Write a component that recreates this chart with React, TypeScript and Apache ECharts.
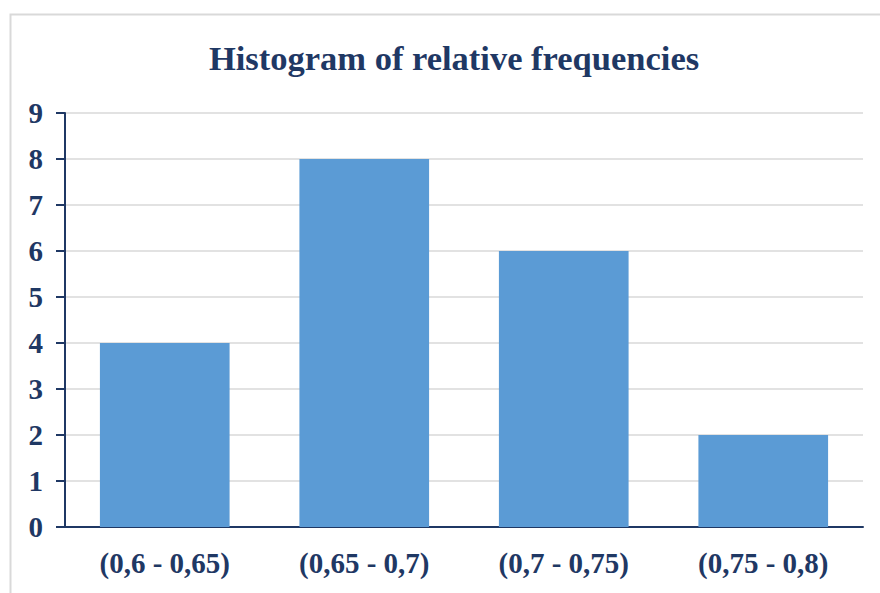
import React, { useEffect, useRef } from "react";
import * as echarts from "echarts";

const categories = ["(0,6 - 0,65)", "(0,65 - 0,7)", "(0,7 - 0,75)", "(0,75 - 0,8)"];
const frequencies = [4, 8, 6, 2];
const titleText = "Histogram of relative frequencies";

const NAVY = "#1F3864";
const FONT = "'Liberation Serif', 'Times New Roman', serif";

export default function App() {
  const ref = useRef<HTMLDivElement>(null);
  useEffect(() => {
    if (!ref.current) return;
    const chart = echarts.init(ref.current, undefined, { renderer: "svg" });
    chart.setOption({
      animation: false,
      backgroundColor: "#ffffff",
      title: {
        text: titleText,
        left: 449,
        textAlign: "center",
        top: 35,
        textStyle: { fontFamily: FONT, fontWeight: "bold", fontSize: 34.5, color: NAVY },
      },
      graphic: [
        {
          type: "rect",
          shape: { x: 10.5, y: 14.5, width: 900, height: 700 },
          style: { fill: "none", stroke: "#d9d9d9", lineWidth: 2 },
          silent: true,
          z: -1,
        },
      ],
      grid: { left: 65, right: 17, top: 113, bottom: 66 },
      xAxis: {
        type: "category",
        data: categories,
        axisLine: { lineStyle: { color: NAVY, width: 2 } },
        axisTick: { show: false },
        axisLabel: {
          fontFamily: FONT,
          fontWeight: "bold",
          fontSize: 29,
          color: NAVY,
          margin: 21,
        },
      },
      yAxis: {
        type: "value",
        min: 0,
        max: 9,
        interval: 1,
        axisLine: { show: true, lineStyle: { color: NAVY, width: 2 } },
        axisTick: { show: true, length: 9, lineStyle: { color: NAVY, width: 2 } },
        splitLine: { lineStyle: { color: "#d9d9d9", width: 1.5 } },
        axisLabel: {
          fontFamily: FONT,
          fontWeight: "bold",
          fontSize: 29,
          color: NAVY,
          margin: 22,
        },
      },
      series: [
        {
          type: "bar",
          data: frequencies,
          barWidth: "65%",
          itemStyle: { color: "#5B9BD5" },
        },
      ],
    });
    return () => chart.dispose();
  }, []);
  return (
    <div
      ref={ref}
      style={{ position: "absolute", left: 0, top: 0, width: 880, height: 593 }}
    />
  );
}
